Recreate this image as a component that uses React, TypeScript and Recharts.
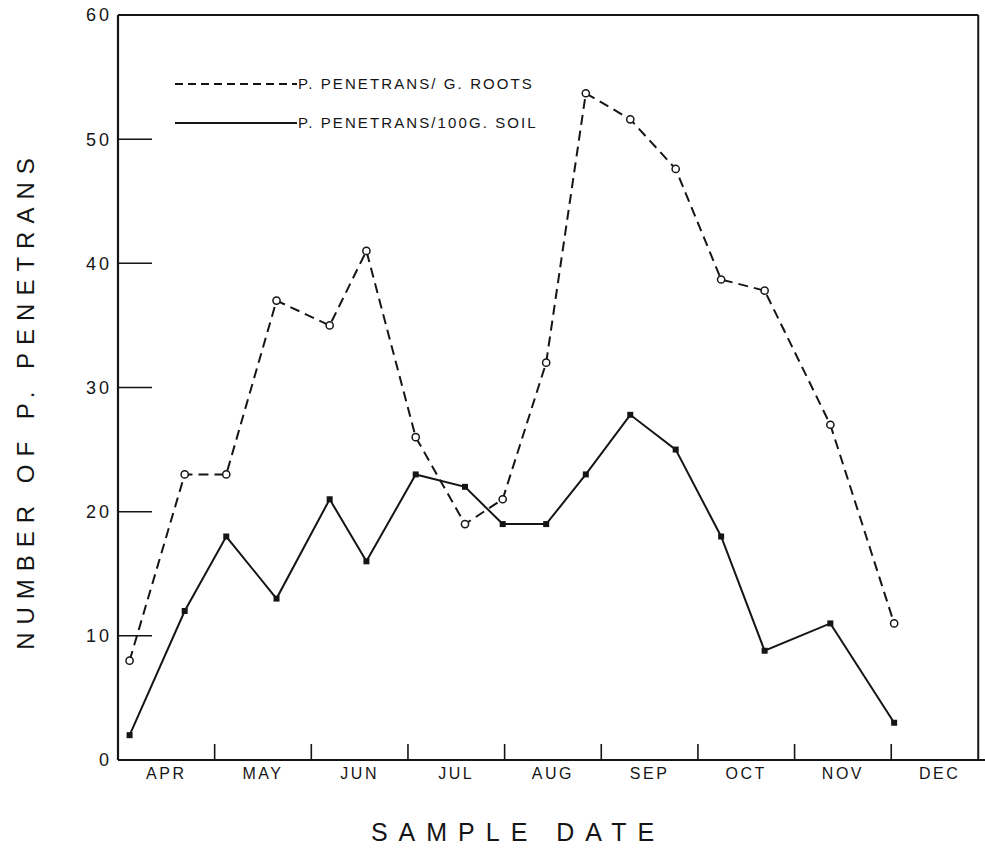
import React from 'react';
import { LineChart, Line, XAxis, YAxis, Legend, ReferenceLine, Label } from 'recharts';

// Sample dates expressed in months after 1 April (month boundaries at whole numbers)
const sampleMonth = [0.12, 0.69, 1.12, 1.64, 2.19, 2.57, 3.08, 3.59, 3.98, 4.43, 4.84, 5.3, 5.77, 6.24, 6.69, 7.37, 8.03];
// P. penetrans per gram of roots (dashed, open circles)
const rootsPerGram = [8, 23, 23, 37, 35, 41, 26, 19, 21, 32, 53.7, 51.6, 47.6, 38.7, 37.8, 27, 11];
// P. penetrans per 100 g of soil (solid, filled squares)
const soilPer100g = [2, 12, 18, 13, 21, 16, 23, 22, 19, 19, 23, 27.8, 25, 18, 8.8, 11, 3];

const monthLabels = ['APR', 'MAY', 'JUN', 'JUL', 'AUG', 'SEP', 'OCT', 'NOV', 'DEC'];
const monthBoundaries = [1, 2, 3, 4, 5, 6, 7, 8];
const monthCenters = [0.5, 1.5, 2.5, 3.5, 4.5, 5.5, 6.5, 7.5, 8.5];
const yTicks = [0, 10, 20, 30, 40, 50, 60];

const X_MAX = 8.97;
const FRAME_X = 8.9;

const data = sampleMonth.map((m, i) => ({ m, roots: rootsPerGram[i], soil: soilPer100g[i] }));
const xTicks = [...monthCenters, ...monthBoundaries].sort((a, b) => a - b);

const INK = '#151515';
const FONT = '"Liberation Sans", Arial, sans-serif';

const XTick = (props: any) => {
  const { x, y, payload } = props;
  const v = payload.value as number;
  if (Number.isInteger(v)) {
    return <line x1={x} x2={x} y1={y} y2={y - 16} stroke={INK} strokeWidth={1.6} />;
  }
  return (
    <text x={x} y={y + 19} textAnchor="middle" fontFamily={FONT} fontSize={16} letterSpacing={2.5} fill={INK}>
      {monthLabels[Math.floor(v)]}
    </text>
  );
};

const YTick = (props: any) => {
  const { x, y, payload } = props;
  const v = payload.value as number;
  return (
    <g>
      {v > 0 && v < 60 && <line x1={x} x2={x + 34} y1={y} y2={y} stroke={INK} strokeWidth={1.5} />}
      <text x={x - 6} y={y} dy="0.36em" textAnchor="end" fontFamily={FONT} fontSize={18} letterSpacing={3} fill={INK}>
        {v}
      </text>
    </g>
  );
};

const OpenCircle = (props: any) => {
  const { cx, cy } = props;
  if (cx == null || cy == null) return null;
  return <circle cx={cx} cy={cy} r={3.6} fill="#fff" stroke={INK} strokeWidth={1.5} />;
};

const FilledSquare = (props: any) => {
  const { cx, cy } = props;
  if (cx == null || cy == null) return null;
  return <rect x={cx - 3} y={cy - 3} width={6} height={6} fill={INK} />;
};

const LegendBox = () => (
  <svg width={440} height={70} style={{ display: 'block' }}>
    <line x1={5} x2={127} y1={14} y2={14} stroke={INK} strokeWidth={2} strokeDasharray="8 5" />
    <text x={128} y={14} dy="0.36em" fontFamily={FONT} fontSize={15} letterSpacing={2.1} fill={INK}>
      P. PENETRANS/ G. ROOTS
    </text>
    <line x1={5} x2={127} y1={53} y2={53} stroke={INK} strokeWidth={2} />
    <text x={128} y={53} dy="0.36em" fontFamily={FONT} fontSize={15} letterSpacing={2.1} fill={INK}>
      P. PENETRANS/100G. SOIL
    </text>
  </svg>
);

const XTitle = (props: any) => {
  const vb = props.viewBox || {};
  return (
    <text x={vb.x + 400} y={vb.y + 81} textAnchor="middle" fontFamily={FONT} fontSize={25} letterSpacing={11} fill={INK}>
      SAMPLE DATE
    </text>
  );
};

const YTitle = (props: any) => {
  const vb = props.viewBox || {};
  const cx = vb.x + 25;
  const cy = vb.y + 385;
  return (
    <text
      x={cx}
      y={cy}
      dy="0.36em"
      transform={`rotate(-90 ${cx} ${cy})`}
      textAnchor="middle"
      fontFamily={FONT}
      fontSize={24}
      letterSpacing={8}
      fill={INK}
    >
      NUMBER OF P. PENETRANS
    </text>
  );
};

export default function App() {
  return (
    <div style={{ position: 'absolute', left: 0, top: 0, width: 985, height: 853, background: '#fff' }}>
      <LineChart width={985} height={853} data={data} margin={{ top: 15, right: 0, left: 0, bottom: 0 }}>
        <XAxis
          dataKey="m"
          type="number"
          domain={[0, X_MAX]}
          ticks={xTicks}
          interval={0}
          allowDataOverflow
          height={93}
          tickSize={0}
          tickMargin={0}
          tickLine={false}
          tick={<XTick />}
          axisLine={{ stroke: INK, strokeWidth: 2 }}
        >
          <Label content={<XTitle />} />
        </XAxis>
        <YAxis
          type="number"
          domain={[0, 60]}
          ticks={yTicks}
          interval={0}
          width={118}
          tickSize={0}
          tickMargin={0}
          tickLine={false}
          tick={<YTick />}
          axisLine={{ stroke: INK, strokeWidth: 2.2 }}
        >
          <Label content={<YTitle />} />
        </YAxis>
        <ReferenceLine segment={[{ x: 0, y: 60 }, { x: FRAME_X, y: 60 }]} stroke={INK} strokeWidth={2} />
        <ReferenceLine segment={[{ x: FRAME_X, y: 0 }, { x: FRAME_X, y: 60 }]} stroke={INK} strokeWidth={2} />
        <Legend
          layout="horizontal"
          verticalAlign="middle"
          align="center"
          content={<LegendBox />}
          wrapperStyle={{ position: 'absolute', left: 170, top: 70, width: 440, height: 70 }}
        />
        <Line
          type="linear"
          dataKey="roots"
          name="P. PENETRANS/ G. ROOTS"
          stroke={INK}
          strokeWidth={2}
          strokeDasharray="10 6"
          dot={<OpenCircle />}
          activeDot={false}
          isAnimationActive={false}
        />
        <Line
          type="linear"
          dataKey="soil"
          name="P. PENETRANS/100G. SOIL"
          stroke={INK}
          strokeWidth={2}
          dot={<FilledSquare />}
          activeDot={false}
          isAnimationActive={false}
        />
      </LineChart>
    </div>
  );
}
